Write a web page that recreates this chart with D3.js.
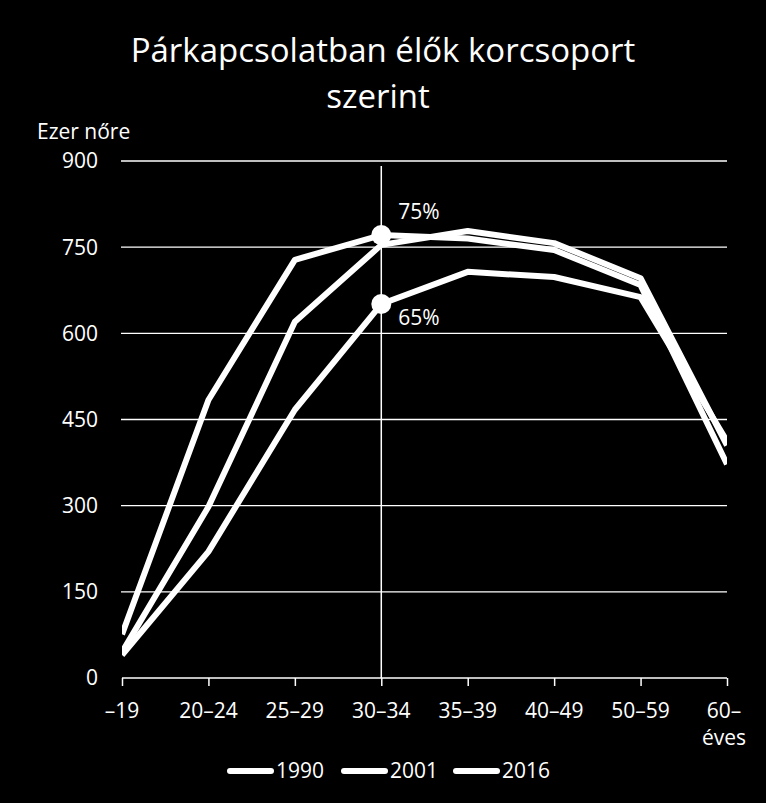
<!DOCTYPE html>
<html>
<head>
<meta charset="utf-8">
<script src="https://cdn.jsdelivr.net/npm/d3@7"></script>
<style>
  html, body { margin: 0; padding: 0; background: #000; }
  svg { display: block; }
  text { font-family: "Open Sans", "Noto Sans", sans-serif; fill: #fff; }
</style>
</head>
<body>
<svg id="canvas" width="766" height="803"></svg>
<script>
'use strict';

/* chart data (ezer nőre) */
const categories = ['–19', '20–24', '25–29', '30–34', '35–39', '40–49', '50–59', '60–'];
const series = ['1990', '2001', '2016'];
const values1990 = [76, 484, 728, 771, 765, 745, 684, 372];
const values2001 = [45, 298, 620, 754, 778, 757, 696, 405];
const values2016 = [40, 220, 467, 651, 707, 698, 663, 412];
const yTicks = [0, 150, 300, 450, 600, 750, 900];
const highlights = [
  { series: '1990', category: '30–34', label: '75%' },
  { series: '2016', category: '30–34', label: '65%' },
];

const valuesBySeries = { '1990': values1990, '2001': values2001, '2016': values2016 };

const svg = d3.select('#canvas');

/* scales */
const x = d3.scalePoint()
  .domain(categories)
  .range([122, 727]);
const y = d3.scaleLinear()
  .domain([0, 900])
  .range([678, 161]);

/* plot area clip, the lines are cut at the first and last category */
svg.append('defs').append('clipPath')
  .attr('id', 'plot-clip')
  .append('rect')
  .attr('x', x.range()[0]).attr('y', 0)
  .attr('width', x.range()[1] - x.range()[0])
  .attr('height', 803);

/* title */
svg.append('text')
  .attr('x', 383).attr('y', 62)
  .attr('text-anchor', 'middle')
  .style('font-size', '33px')
  .text('Párkapcsolatban élők korcsoport');
svg.append('text')
  .attr('x', 378).attr('y', 108)
  .attr('text-anchor', 'middle')
  .style('font-size', '33px')
  .text('szerint');

/* y axis title */
svg.append('text')
  .attr('x', 37).attr('y', 139)
  .style('font-size', '21px')
  .text('Ezer nőre');

/* gridlines + y labels */
const grid = svg.append('g').attr('id', 'grid');
grid.selectAll('line')
  .data(yTicks.filter(function(d){ return d > 0; }))
  .enter().append('line')
  .attr('x1', 121).attr('x2', 727)
  .attr('y1', function(d){ return y(d); })
  .attr('y2', function(d){ return y(d); })
  .style('stroke', '#fff')
  .style('stroke-width', 1.3);

svg.append('g')
  .selectAll('text')
  .data(yTicks)
  .enter().append('text')
  .attr('x', 98)
  .attr('y', function(d){ return y(d); })
  .attr('dy', '0.35em')
  .attr('text-anchor', 'end')
  .style('font-size', '21px')
  .text(function(d){ return d; });

/* x axis */
const xAxis = svg.append('g')
  .attr('transform', 'translate(0,' + y(0) + ')')
  .call(d3.axisBottom(x).tickSizeOuter(0).tickSizeInner(8).tickFormat(''));
xAxis.select('.domain')
  .attr('d', 'M' + x(categories[0]) + ',0H' + x(categories[categories.length - 1]))
  .style('stroke', '#fff')
  .style('stroke-width', 1.5);
xAxis.selectAll('.tick line')
  .style('stroke', '#fff')
  .style('stroke-width', 1.5);

/* x labels, last one wraps onto a second line */
const xLabels = svg.append('g');
categories.forEach(function(c, i){
  const t = xLabels.append('text')
    .attr('x', x(c))
    .attr('y', 718)
    .attr('text-anchor', 'middle')
    .style('font-size', '21px');
  if (i === categories.length - 1) {
    t.attr('x', x(c) - 3).text(c);
    xLabels.append('text')
      .attr('x', x(c) - 3)
      .attr('y', 745)
      .attr('text-anchor', 'middle')
      .style('font-size', '21px')
      .text('éves');
  } else {
    t.text(c);
  }
});

/* reference line at 30–34 */
svg.append('line')
  .attr('x1', x('30–34')).attr('x2', x('30–34'))
  .attr('y1', 166).attr('y2', y(0))
  .style('stroke', '#fff')
  .style('stroke-width', 1.5);

/* series lines */
const line = d3.line()
  .x(function(d, i){ return x(categories[i]); })
  .y(function(d){ return y(d); });

svg.append('g')
  .attr('id', 'lines')
  .attr('clip-path', 'url(#plot-clip)')
  .selectAll('path')
  .data(series)
  .enter().append('path')
  .attr('d', function(s){ return line(valuesBySeries[s]); })
  .style('fill', 'none')
  .style('stroke', '#fff')
  .style('stroke-width', 6)
  .style('stroke-linejoin', 'round');

/* highlighted points with percentages */
const marks = svg.append('g').attr('id', 'marks');
highlights.forEach(function(h){
  const v = valuesBySeries[h.series][categories.indexOf(h.category)];
  marks.append('circle')
    .attr('cx', x(h.category))
    .attr('cy', y(v))
    .attr('r', 10)
    .style('fill', '#fff');
  marks.append('text')
    .attr('x', x(h.category) + 17)
    .attr('y', y(v) + (h.label === '75%' ? -16 : 21))
    .style('font-size', '21px')
    .text(h.label);
});

/* legend */
const legend = svg.append('g').attr('id', 'legend');
const legendX = [230, 344, 456];
series.forEach(function(s, i){
  legend.append('line')
    .attr('x1', legendX[i]).attr('x2', legendX[i] + 41)
    .attr('y1', 771).attr('y2', 771)
    .style('stroke', '#fff')
    .style('stroke-width', 6)
    .style('stroke-linecap', 'round');
  legend.append('text')
    .attr('x', legendX[i] + 46)
    .attr('y', 771)
    .attr('dy', '0.35em')
    .style('font-size', '21px')
    .text(s);
});
</script>
</body>
</html>
